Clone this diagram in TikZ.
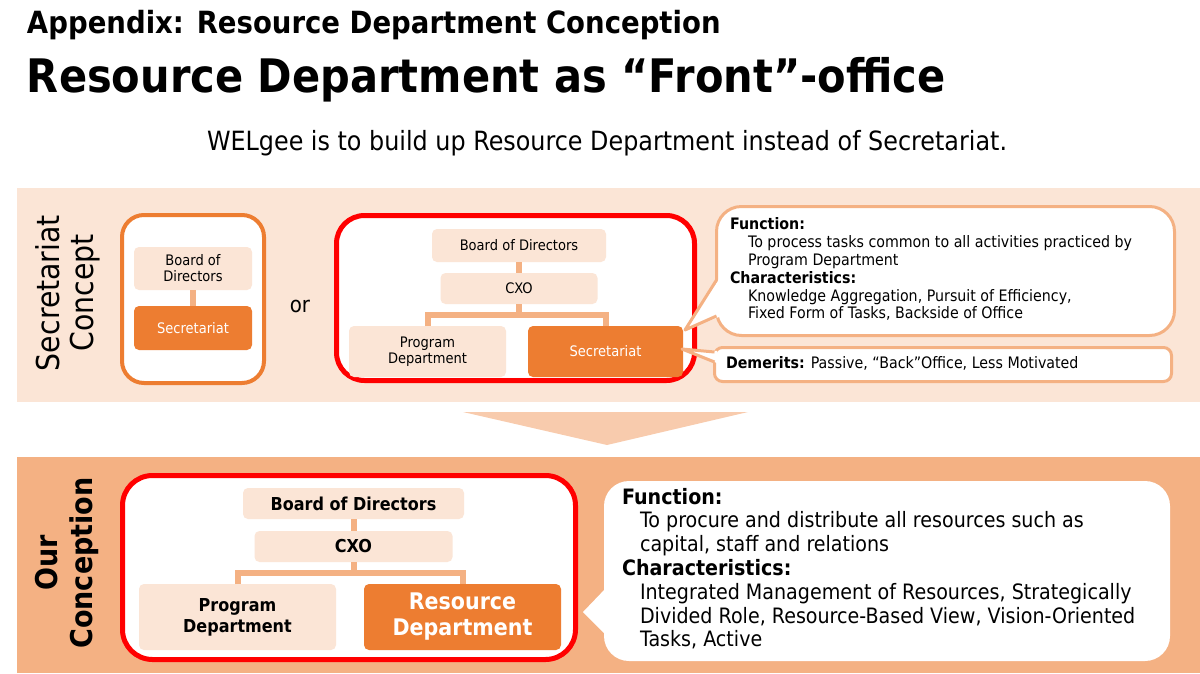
\documentclass[tikz,border=0pt]{standalone}
\usepackage{fontspec}
\setmainfont{DejaVu Sans}[FakeStretch=0.9]
\definecolor{peach}{HTML}{FBE5D6}
\definecolor{orng}{HTML}{ED7D31}
\definecolor{midc}{HTML}{F4B183}
\definecolor{arrowc}{HTML}{F8CBAD}
\definecolor{redc}{HTML}{FF0000}
\begin{document}
\begin{tikzpicture}[x=1pt,y=-1pt,
  every node/.style={inner sep=0pt, outer sep=0pt},
  lbox/.style={fill=peach, rounded corners=5pt, text=black, align=center},
  obox/.style={fill=orng, rounded corners=5pt, text=white, align=center},
  conn/.style={draw=midc, line width=6pt},
  smallf/.style={font=\fontsize{14.5}{16}\selectfont},
  bigf/.style={font=\bfseries\fontsize{17.8}{21}\selectfont},
  ctext/.style={anchor=base west, font=\fontsize{15.8}{17}\selectfont},
  dtext/.style={anchor=base west, font=\fontsize{21.2}{24}\selectfont},
  callout/.style={draw=midc, line width=3pt, fill=white},
]
\useasboundingbox (0,0) rectangle (1200,673);

% titles
\node[anchor=base west, font=\bfseries\fontsize{30.6}{34}\selectfont] (t1) at (27,33) {Appendix: Resource Department Conception};
\node[anchor=base west, font=\bfseries\fontsize{46.2}{50}\selectfont] (t2) at (27,92) {Resource Department as “Front”-office};
\node[anchor=base west, font=\fontsize{26.5}{30}\selectfont] (sub) at (207,150) {WELgee is to build up Resource Department instead of Secretariat.};

% bands
\fill[peach] (17,188) rectangle (1200,402);
\fill[midc] (17,457) rectangle (1200,673);
\fill[arrowc] (463,412) -- (748,412) -- (607,445) -- cycle;

% side labels
\node[rotate=90, align=center, font=\fontsize{31.5}{34}\selectfont] (lab1) at (67.5,293) {Secretariat\\Concept};
\node[rotate=90, align=center, font=\bfseries\fontsize{30}{35}\selectfont] (lab2) at (67,563) {Our\\Conception};

% left small chart
\node[draw=orng, line width=4pt, fill=white, rounded corners=22pt, minimum width=142, minimum height=168] (sbox) at (193,299) {};
\node[lbox, smallf, minimum width=118, minimum height=43] (sbod) at (193,268.5) {Board of\\Directors};
\node[obox, smallf, minimum width=118, minimum height=44] (ssec) at (193,328) {Secretariat};
\draw[conn] (sbod) -- (ssec);
\node[font=\fontsize{22}{22}\selectfont] (or) at (300,306) {or};

% red chart top
\node[draw=redc, line width=5pt, fill=white, rounded corners=28pt, minimum width=358, minimum height=165] (rbox1) at (515.5,298) {};
\node[lbox, smallf, minimum width=174, minimum height=33] (bod1) at (519,245.5) {Board of Directors};
\node[lbox, smallf, minimum width=157, minimum height=31] (cxo1) at (519,288.5) {CXO};
\node[lbox, smallf, minimum width=157, minimum height=51] (prog1) at (427.5,351.5) {Program\\Department};
\node[obox, smallf, minimum width=155, minimum height=51] (sec1) at (605.5,351.5) {Secretariat};
\coordinate (j1) at (519,315);
\draw[conn] (bod1) -- (cxo1);
\draw[conn] (cxo1.south) -- (j1);
\draw[conn] (prog1.north) |- (j1) -| (sec1.north);

% callout 1
\node[callout, rounded corners=25pt, minimum width=458, minimum height=129] (c1) at (945.5,271) {};
\coordinate (c1tip) at (685,330);
\fill[white] (c1tip) -- (719,279) -- (719,317) -- cycle;
\draw[draw=midc, line width=3pt, line join=round] (716.5,280) -- (c1tip) -- (716.5,316);
\node[ctext, font=\bfseries\fontsize{15.8}{17}\selectfont] (c1a) at (730,229) {Function:};
\node[ctext] (c1b) at (748,247) {To process tasks common to all activities practiced by};
\node[ctext] (c1c) at (748,265) {Program Department};
\node[ctext, font=\bfseries\fontsize{15.8}{17}\selectfont] (c1d) at (730,283) {Characteristics:};
\node[ctext] (c1e) at (748,301) {Knowledge Aggregation, Pursuit of Efficiency,};
\node[ctext] (c1f) at (748,318) {Fixed Form of Tasks, Backside of Office};

% callout 2
\node[callout, rounded corners=8pt, minimum width=457, minimum height=34] (c2) at (943,364.5) {};
\coordinate (c2tip) at (682,349);
\fill[white] (c2tip) -- (717,351) -- (717,363) -- cycle;
\draw[draw=midc, line width=3pt, line join=round] (714.5,352) -- (c2tip) -- (714.5,362);
\node[ctext] (c2a) at (726,368) {\textbf{Demerits:} Passive, “Back”Office, Less Motivated};

% bottom chart
\node[draw=redc, line width=5pt, fill=white, rounded corners=30pt, minimum width=453, minimum height=184] (rbox2) at (349,567.5) {};
\node[lbox, bigf, minimum width=221, minimum height=31] (bod2) at (353.5,503.5) {Board of Directors};
\node[lbox, bigf, minimum width=198, minimum height=31] (cxo2) at (353.5,546.5) {CXO};
\node[lbox, bigf, minimum width=197, minimum height=66] (prog2) at (237.5,617) {Program\\Department};
\node[obox, font=\bfseries\fontsize{22.9}{26}\selectfont, minimum width=197, minimum height=66] (res2) at (462.5,617) {Resource\\Department};
\coordinate (j2) at (353.5,572.5);
\draw[conn] (bod2) -- (cxo2);
\draw[conn] (cxo2.south) -- (j2);
\draw[conn] (prog2.north) |- (j2) -| (res2.north);

% callout 3
\node[fill=white, rounded corners=25pt, minimum width=566, minimum height=180] (c3) at (887,571) {};
\coordinate (c3tip) at (583,612);
\fill[white] (c3tip) -- (606,588) -- (606,635) -- cycle;
\node[dtext, font=\bfseries\fontsize{21.2}{24}\selectfont] (c3a) at (622,504) {Function:};
\node[dtext] (c3b) at (640,527.8) {To procure and distribute all resources such as};
\node[dtext] (c3c) at (640,551.6) {capital, staff and relations};
\node[dtext, font=\bfseries\fontsize{21.2}{24}\selectfont] (c3d) at (622,575.4) {Characteristics:};
\node[dtext] (c3e) at (640,599.2) {Integrated Management of Resources, Strategically};
\node[dtext] (c3f) at (640,623) {Divided Role, Resource-Based View, Vision-Oriented};
\node[dtext] (c3g) at (640,646.8) {Tasks, Active};
\end{tikzpicture}
\end{document}
